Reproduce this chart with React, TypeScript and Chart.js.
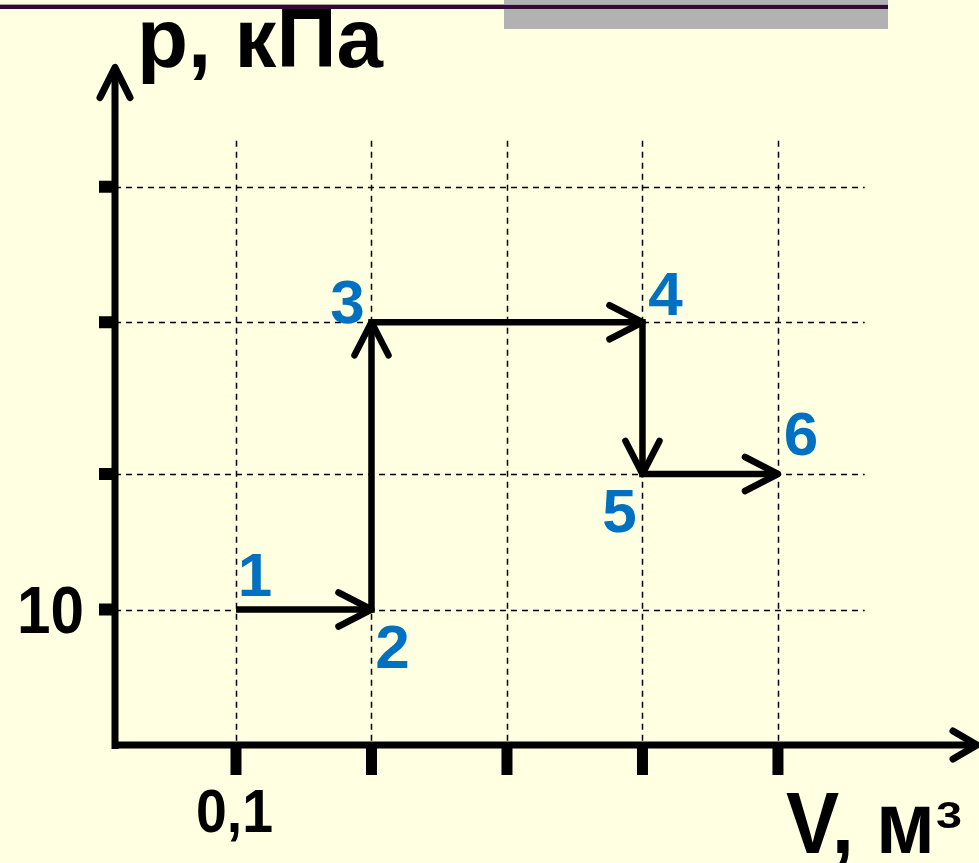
import { useEffect, useRef } from 'react';
import { Chart, registerables } from 'chart.js';

Chart.register(...registerables);

// ---- data ----
const volume = [0.1, 0.2, 0.2, 0.4, 0.4, 0.5];
const pressure = [10, 10, 31.2, 31.2, 20, 20];
const pointLabels = ['1', '2', '3', '4', '5', '6'];
const xGridValues = [0.1, 0.2, 0.3, 0.4, 0.5];
const yGridValues = [10, 20, 31.2, 41.2];
const xTickLabels = ['0,1', '', '', '', ''];
const yTickLabels = ['10', '', '', ''];
const yTitle = 'p, кПа';
const xTitle = 'V, м';
const xTitleSup = '3';

// ---- style / layout ----
const BG = '#FFFFE1';
const BLUE = '#0070C0';
const X_MIN = 0.0107;
const X_MAX = 0.6469;
const Y_MIN = 0;
const Y_MAX = 50;
const GRID_X_END = 0.564; // horizontal grid lines end
const GRID_Y_END = 44.6; // vertical grid lines start (top)
const labelOffsets: [number, number][] = [
  [19, -36],
  [21, 36],
  [-24, -21],
  [23, -29],
  [-23, 36],
  [23, -41],
];
const FONT = '"Liberation Sans", Arial, sans-serif';

function drawText(
  ctx: CanvasRenderingContext2D,
  text: string,
  x: number,
  baseline: number,
  size: number,
  targetWidth: number | null,
  align: 'left' | 'center' | 'right',
  sxFixed = 1
) {
  ctx.font = `bold ${size}px ${FONT}`;
  const w = ctx.measureText(text).width;
  const sx = targetWidth ? targetWidth / w : sxFixed;
  ctx.save();
  ctx.translate(x, baseline);
  ctx.scale(sx, 1);
  ctx.textAlign = 'left';
  ctx.textBaseline = 'alphabetic';
  const ox = align === 'center' ? -w / 2 : align === 'right' ? -w : 0;
  ctx.fillText(text, ox, 0);
  ctx.restore();
}

function chevron(
  ctx: CanvasRenderingContext2D,
  tx: number,
  ty: number,
  dx: number,
  dy: number,
  along: number,
  perp: number,
  lw: number
) {
  const len = Math.hypot(dx, dy) || 1;
  const ux = dx / len;
  const uy = dy / len;
  const px = -uy;
  const py = ux;
  ctx.save();
  ctx.strokeStyle = '#000';
  ctx.lineWidth = lw;
  ctx.lineCap = 'round';
  ctx.lineJoin = 'round';
  ctx.beginPath();
  ctx.moveTo(tx - ux * along + px * perp, ty - uy * along + py * perp);
  ctx.lineTo(tx, ty);
  ctx.lineTo(tx - ux * along - px * perp, ty - uy * along - py * perp);
  ctx.stroke();
  ctx.restore();
}

const decor = {
  id: 'decor',
  beforeDraw(chart: any) {
    const ctx: CanvasRenderingContext2D = chart.ctx;
    ctx.save();
    ctx.fillStyle = BG;
    ctx.fillRect(0, 0, chart.width, chart.height);
    // top decoration
    ctx.fillStyle = '#B2B2B2';
    ctx.fillRect(504, 0, 384, 29);
    ctx.fillStyle = '#A89AA8';
    ctx.fillRect(0, 4, 888, 1);
    ctx.fillStyle = '#330A33';
    ctx.fillRect(0, 5, 888, 4);
    ctx.restore();
  },
  beforeDatasetsDraw(chart: any) {
    const ctx: CanvasRenderingContext2D = chart.ctx;
    const xs = chart.scales.x;
    const ys = chart.scales.y;
    const { left, bottom, top, right } = chart.chartArea;
    ctx.save();
    // grid
    ctx.strokeStyle = '#000';
    ctx.lineWidth = 1.5;
    ctx.setLineDash([6, 5]);
    const gTop = ys.getPixelForValue(GRID_Y_END);
    const gRight = xs.getPixelForValue(GRID_X_END);
    xGridValues.forEach((v) => {
      const x = Math.round(xs.getPixelForValue(v)) + 0.5;
      ctx.beginPath();
      ctx.moveTo(x, gTop);
      ctx.lineTo(x, bottom);
      ctx.stroke();
    });
    yGridValues.forEach((v) => {
      const y = Math.round(ys.getPixelForValue(v)) + 0.5;
      ctx.beginPath();
      ctx.moveTo(left, y);
      ctx.lineTo(gRight, y);
      ctx.stroke();
    });
    ctx.setLineDash([]);
    // axes
    ctx.lineWidth = 7;
    ctx.lineCap = 'butt';
    ctx.beginPath();
    ctx.moveTo(left, bottom + 4);
    ctx.lineTo(left, top + 2);
    ctx.stroke();
    ctx.beginPath();
    ctx.moveTo(left - 3, bottom);
    ctx.lineTo(right - 2, bottom);
    ctx.stroke();
    chevron(ctx, left, top, 0, -1, 30, 15, 7);
    chevron(ctx, right, bottom, 1, 0, 24, 14, 7);
    // tick marks
    ctx.fillStyle = '#000';
    yGridValues.forEach((v) => {
      const y = ys.getPixelForValue(v);
      ctx.fillRect(left - 16, y - 6, 16, 12);
    });
    xGridValues.forEach((v) => {
      const x = xs.getPixelForValue(v);
      ctx.fillRect(x - 5.5, bottom, 11, 30);
    });
    // tick labels
    ctx.fillStyle = '#000';
    yTickLabels.forEach((t, i) => {
      if (!t) return;
      const y = ys.getPixelForValue(yGridValues[i]);
      drawText(ctx, t, left - 31, y + 23, 67, 67, 'right');
    });
    xTickLabels.forEach((t, i) => {
      if (!t) return;
      const x = xs.getPixelForValue(xGridValues[i]);
      drawText(ctx, t, x - 1.5, bottom + 87, 61, 77, 'center');
    });
    // axis titles
    drawText(ctx, yTitle, 137, 67, 84, 246, 'left');
    drawText(ctx, xTitle, 786, 853, 88, 149, 'left');
    drawText(ctx, xTitleSup, 936, 828, 37, 26, 'left');
    ctx.restore();
  },
  afterDatasetsDraw(chart: any) {
    const ctx: CanvasRenderingContext2D = chart.ctx;
    const meta = chart.getDatasetMeta(0);
    const pts = meta.data;
    for (let i = 1; i < pts.length; i++) {
      const a = pts[i - 1];
      const b = pts[i];
      chevron(ctx, b.x, b.y, b.x - a.x, b.y - a.y, 33, 17, 6.5);
    }
    ctx.save();
    ctx.fillStyle = BLUE;
    pts.forEach((p: any, i: number) => {
      const [ox, oy] = labelOffsets[i];
      drawText(ctx, pointLabels[i], p.x + ox, p.y + oy + 22, 62, null, 'center', 1.0);
    });
    ctx.restore();
  },
};

export default function App() {
  const ref = useRef<HTMLCanvasElement>(null);
  useEffect(() => {
    document.body.style.margin = '0';
    document.body.style.background = BG;
    const chart = new Chart(ref.current!, {
      type: 'scatter',
      data: {
        datasets: [
          {
            data: volume.map((v, i) => ({ x: v, y: pressure[i] })),
            showLine: true,
            borderColor: '#000',
            borderWidth: 6.5,
            pointRadius: 0,
            pointHoverRadius: 0,
            borderJoinStyle: 'miter',
            borderCapStyle: 'butt',
            tension: 0,
            clip: false as any,
          } as any,
        ],
      },
      options: {
        responsive: false,
        animation: false,
        devicePixelRatio: 1,
        events: [],
        layout: { padding: { left: 115, right: 2, top: 67.5, bottom: 118 } },
        scales: {
          x: { type: 'linear', min: X_MIN, max: X_MAX, display: false },
          y: { type: 'linear', min: Y_MIN, max: Y_MAX, display: false },
        },
        plugins: { legend: { display: false }, tooltip: { enabled: false } },
      },
      plugins: [decor],
    });
    return () => chart.destroy();
  }, []);
  return (
    <div style={{ width: 979, height: 863 }}>
      <canvas ref={ref} width={979} height={863} style={{ display: 'block' }} />
    </div>
  );
}
